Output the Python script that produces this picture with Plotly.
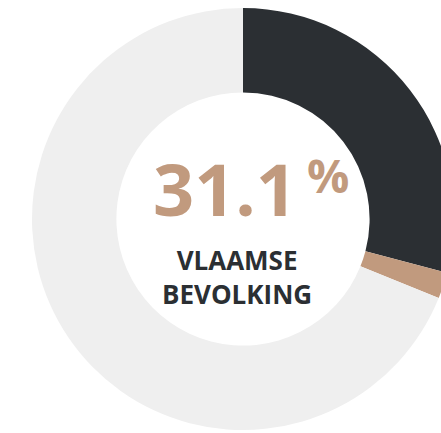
import plotly.graph_objects as go

labels = ["Vlaamse bevolking", "Overig aandeel", "Rest"]
values = [29.1, 2.0, 68.9]
colors = ["#2b2f33", "#c19a7e", "#efefef"]
center_value = "31.1"
center_unit = "%"
center_label = ["VLAAMSE", "BEVOLKING"]

W, H = 486, 433
fig = go.Figure(go.Pie(
    labels=labels, values=values, hole=0.60, sort=False,
    direction="clockwise", rotation=0,
    marker=dict(colors=colors, line=dict(width=0)),
    textinfo="none", hoverinfo="label+value",
    domain=dict(x=[0, 1], y=[1 - 430 / H, 1 - 8 / H]),
))

def px(x):
    return x / W

def py(y):
    return 1 - y / H

fig.add_annotation(x=px(225), y=py(188), xref="paper", yref="paper",
                   text=center_value, showarrow=False,
                   font=dict(family="Open Sans", size=72, color="#c19a7e", weight="bold"))
fig.add_annotation(x=px(351), y=py(175), xref="paper", yref="paper",
                   text=center_unit, showarrow=False,
                   font=dict(family="Open Sans", size=47, color="#c19a7e", weight="bold"))
fig.add_annotation(x=px(237), y=py(277), xref="paper", yref="paper",
                   text="<br>".join(center_label), showarrow=False,
                   font=dict(family="Open Sans", size=26, color="#2b2f33", weight="bold"))

fig.update_layout(width=W, height=H, margin=dict(l=0, r=0, t=0, b=0),
                  showlegend=False, paper_bgcolor="white", plot_bgcolor="white")

fig.write_html("out.html", config={"displayModeBar": False}, post_script=(
    "document.body.style.margin='0';"
    "document.body.style.overflow='hidden';"
    "document.documentElement.style.overflow='hidden';"))
